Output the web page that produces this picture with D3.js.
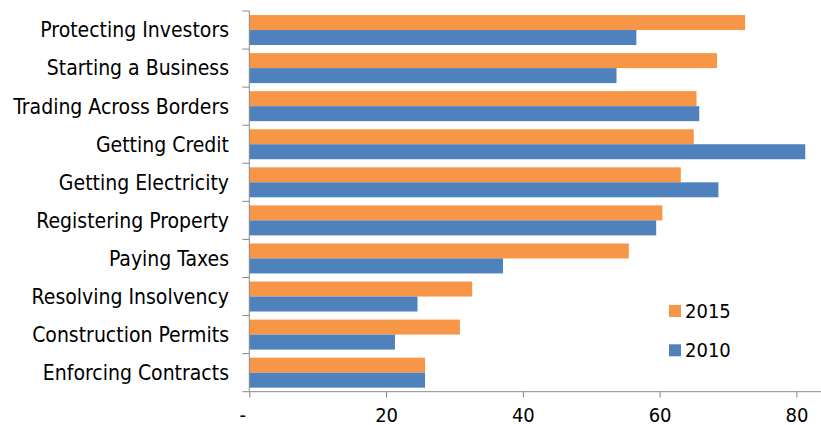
<!DOCTYPE html>
<html>
<head>
<meta charset="utf-8">
<script src="https://cdn.jsdelivr.net/npm/d3@7"></script>
<style>
  body { margin: 0; background: #fff; }
  text { font-family: "DejaVu Sans Condensed", "DejaVu Sans", sans-serif; font-stretch: condensed; fill: #000; }
</style>
</head>
<body>
<script>
// categories top -> bottom
var categories = ["Protecting Investors", "Starting a Business", "Trading Across Borders",
  "Getting Credit", "Getting Electricity", "Registering Property", "Paying Taxes",
  "Resolving Insolvency", "Construction Permits", "Enforcing Contracts"];
var series = ["2015", "2010"];
var values2015 = [72.5, 68.4, 65.4, 65.0, 63.1, 60.4, 55.5, 32.6, 30.8, 25.7];
var values2010 = [56.6, 53.7, 65.8, 81.3, 68.6, 59.5, 37.1, 24.6, 21.3, 25.7];
var xTicks = [0, 20, 40, 60, 80];
var colors = {"2015": "#F79646", "2010": "#4F81BD"};

var width = 821, height = 425;

var svg = d3.select("body").append("svg")
    .attr("width", width)
    .attr("height", height);

var x = d3.scaleLinear().domain([0, 83.6]).range([249.3, 821]);
var y = d3.scaleBand().domain(categories).range([11, 391.7]);
var ySub = d3.scaleBand().domain(series).range([0, y.bandwidth()]).paddingOuter(0.27);

var rows = categories.map((c, i) => ({cat: c, "2015": values2015[i], "2010": values2010[i]}));

var groups = svg.append("g").selectAll("g")
    .data(rows)
    .enter().append("g")
    .attr("transform", d => "translate(0," + y(d.cat) + ")");

groups.selectAll("rect")
    .data(d => series.map(s => ({s: s, v: d[s]})))
    .enter().append("rect")
    .attr("x", x(0))
    .attr("y", d => ySub(d.s))
    .attr("width", d => x(d.v) - x(0))
    .attr("height", ySub.bandwidth())
    .style("fill", d => colors[d.s]);

// x axis
var xAxis = d3.axisBottom(x)
    .tickValues(xTicks)
    .tickSize(6)
    .tickSizeOuter(0)
    .tickFormat(d => d === 0 ? "-" : d);
var gx = svg.append("g")
    .attr("transform", "translate(0," + 391.7 + ")")
    .call(xAxis);
gx.select(".domain").attr("stroke", "#898989").attr("d", "M" + x(0) + ",0H821");
gx.selectAll(".tick line").attr("stroke", "#898989");
gx.selectAll(".tick text")
    .attr("y", 16)
    .attr("fill", "#000")
    .style("font-size", "20px")
    .attr("dy", "0.71em");
gx.selectAll(".tick text").filter(d => d === 0).attr("dx", -7);

// y axis: ticks between categories
var yTickVals = categories.map(c => y(c)).concat([391.7]);
var gy = svg.append("g");
gy.append("line")
    .attr("x1", x(0)).attr("x2", x(0))
    .attr("y1", 11).attr("y2", 391.7)
    .attr("stroke", "#898989");
gy.selectAll("line.tick")
    .data(yTickVals)
    .enter().append("line")
    .attr("class", "tick")
    .attr("x1", x(0) - 7).attr("x2", x(0))
    .attr("y1", d => d).attr("y2", d => d)
    .attr("stroke", "#898989");
gy.selectAll("text")
    .data(categories)
    .enter().append("text")
    .attr("x", 229)
    .attr("y", d => y(d) + y.bandwidth() / 2)
    .attr("dy", "0.35em")
    .attr("text-anchor", "end")
    .style("font-size", "21px")
    .text(d => d);

// legend
var legend = svg.append("g").selectAll("g")
    .data(series)
    .enter().append("g")
    .attr("transform", (d, i) => "translate(669," + (305 + i * 39.3) + ")");
legend.append("rect")
    .attr("width", 12).attr("height", 12)
    .style("fill", d => colors[d]);
legend.append("text")
    .attr("x", 16).attr("y", 6)
    .attr("dy", "0.35em")
    .style("font-size", "20px")
    .text(d => d);
</script>
</body>
</html>
